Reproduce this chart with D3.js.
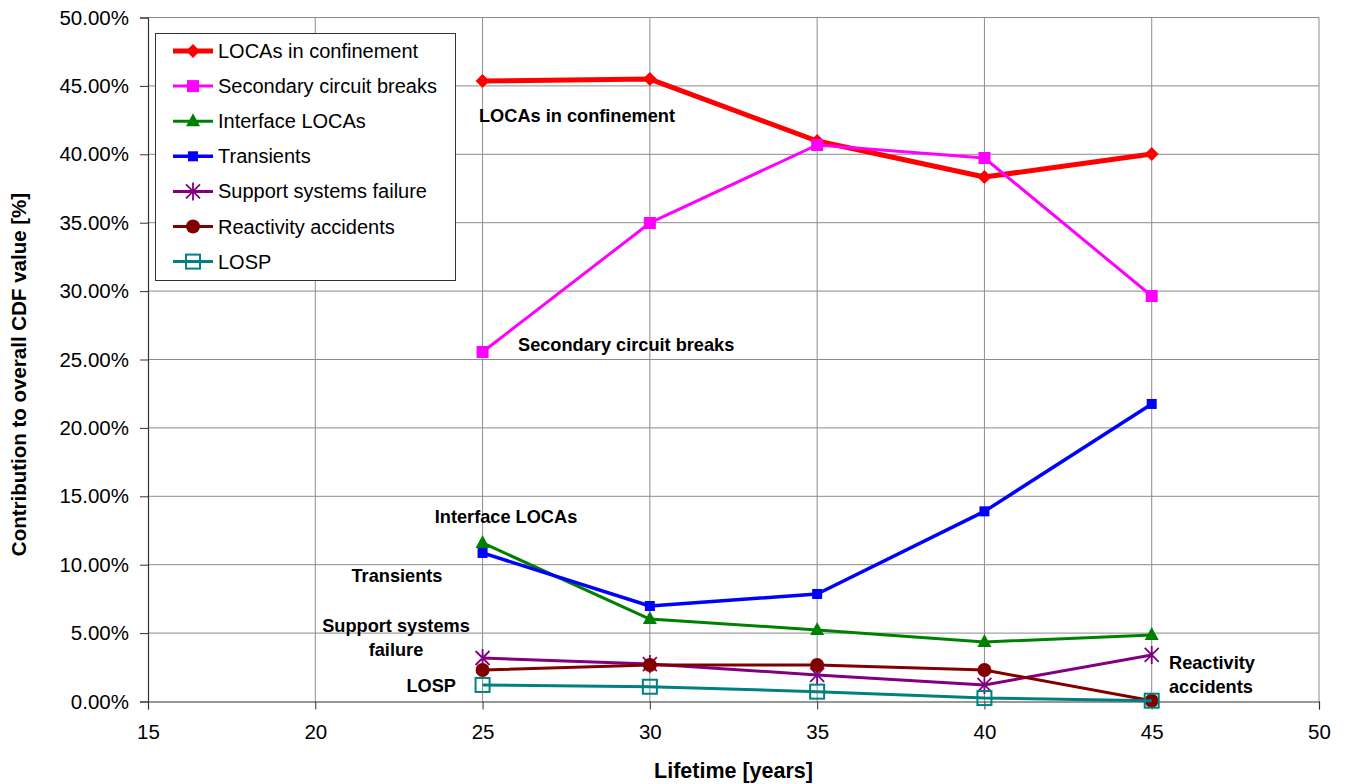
<!DOCTYPE html>
<html>
<head>
<meta charset="utf-8">
<script src="https://cdn.jsdelivr.net/npm/d3@7"></script>
<style>
  html, body { margin: 0; padding: 0; background: #fff; }
  svg { display: block; font-family: "Liberation Sans", Arial, sans-serif; }
</style>
</head>
<body>
<svg id="chart" width="1347" height="784"></svg>
<script>
// Lifetime (years) at which each contribution was evaluated
const years = [25, 30, 35, 40, 45];

// Contribution of each initiating-event group to overall CDF, in %
const locasConfinement = [45.36, 45.50, 40.97, 38.34, 40.02];
const secondaryBreaks  = [25.55, 34.98, 40.68, 39.73, 29.64];
const interfaceLocas   = [11.59, 6.03, 5.23, 4.35, 4.86];
const transients       = [10.86, 6.98, 7.86, 13.90, 21.75];
const supportSystems   = [3.18, 2.74, 1.94, 1.21, 3.40];
const reactivity       = [2.30, 2.67, 2.67, 2.30, 0.06];
const losp             = [1.21, 1.08, 0.72, 0.25, 0.06];

const seriesNames = [
  "LOCAs in confinement", "Secondary circuit breaks", "Interface LOCAs",
  "Transients", "Support systems failure", "Reactivity accidents", "LOSP"
];

const xTicks = [15, 20, 25, 30, 35, 40, 45, 50];
const yTicks = [0, 5, 10, 15, 20, 25, 30, 35, 40, 45, 50];

const series = [
  { name: seriesNames[0], values: locasConfinement, color: "#ff0000", width: 5,   marker: "diamond" },
  { name: seriesNames[1], values: secondaryBreaks,  color: "#ff00ff", width: 3,   marker: "square" },
  { name: seriesNames[2], values: interfaceLocas,   color: "#008000", width: 3,   marker: "triangle" },
  { name: seriesNames[3], values: transients,       color: "#0000ff", width: 3.5, marker: "smallsquare" },
  { name: seriesNames[4], values: supportSystems,   color: "#800080", width: 3,   marker: "star" },
  { name: seriesNames[5], values: reactivity,       color: "#800000", width: 3,   marker: "circle" },
  { name: seriesNames[6], values: losp,             color: "#008080", width: 3,   marker: "hollowsquare" }
];

const svg = d3.select("#chart");
const m = { left: 148, top: 17.5, right: 1319, bottom: 701.5 };

const x = d3.scaleLinear().domain([15, 50]).range([m.left, m.right]);
const y = d3.scaleLinear().domain([0, 50]).range([m.bottom, m.top]);

// gridlines
const grid = svg.append("g");
grid.selectAll("line.h").data(yTicks.slice(1)).join("line")
  .attr("x1", m.left).attr("x2", m.right)
  .attr("y1", d => y(d)).attr("y2", d => y(d))
  .attr("stroke", "#8c8c8c").attr("stroke-width", 1);
grid.selectAll("line.v").data(xTicks.slice(1)).join("line")
  .attr("y1", m.top).attr("y2", m.bottom)
  .attr("x1", d => x(d)).attr("x2", d => x(d))
  .attr("stroke", "#8c8c8c").attr("stroke-width", 1);

// axes
const xAxis = d3.axisBottom(x).tickValues(xTicks).tickSize(8).tickPadding(10).tickFormat(d3.format("d"));
const yAxis = d3.axisLeft(y).tickValues(yTicks).tickSize(8).tickPadding(11).tickFormat(d => d.toFixed(2) + "%");

const gx = svg.append("g").attr("transform", `translate(0,${m.bottom})`).call(xAxis);
const gy = svg.append("g").attr("transform", `translate(${m.left},0)`).call(yAxis);
[gx, gy].forEach(g => {
  g.select(".domain").attr("stroke", "#333").attr("stroke-width", 1.2);
  g.selectAll(".tick line").attr("stroke", "#333");
  g.selectAll(".tick text").attr("fill", "#000")
    .style("font-family", "'Liberation Sans', Arial, sans-serif").style("font-size", "20.5px");
});
gx.selectAll(".tick text").attr("dy", "0.95em");

// axis titles
svg.append("text")
  .attr("x", (m.left + m.right) / 2).attr("y", 778)
  .attr("text-anchor", "middle")
  .style("font-weight", "bold").style("font-size", "21.5px")
  .text("Lifetime [years]");
svg.append("text")
  .attr("transform", `translate(26,${(m.top + m.bottom) / 2 + 15}) rotate(-90)`)
  .attr("text-anchor", "middle")
  .style("font-weight", "bold").style("font-size", "20.5px")
  .text("Contribution to overall CDF value [%]");

// marker drawing
function drawMarker(g, type, color) {
  switch (type) {
    case "diamond":
      g.append("path").attr("d", "M0,-7L7,0L0,7L-7,0Z").attr("fill", color); break;
    case "square":
      g.append("rect").attr("x", -6).attr("y", -6).attr("width", 12).attr("height", 12).attr("fill", color); break;
    case "smallsquare":
      g.append("rect").attr("x", -5).attr("y", -5).attr("width", 10).attr("height", 10).attr("fill", color); break;
    case "triangle":
      g.append("path").attr("d", "M0,-8L7,5L-7,5Z").attr("fill", color); break;
    case "star":
      g.append("path").attr("d", "M-7,-7L7,7M-7,7L7,-7M0,-9L0,9")
        .attr("stroke", color).attr("stroke-width", 1.8).attr("fill", "none"); break;
    case "circle":
      g.append("circle").attr("r", 7).attr("fill", color); break;
    case "hollowsquare":
      g.append("rect").attr("x", -7).attr("y", -7).attr("width", 14).attr("height", 14)
        .attr("fill", "none").attr("stroke", color).attr("stroke-width", 2); break;
  }
}

const line = d3.line().x(d => x(d[0])).y(d => y(d[1]));
const plot = svg.append("g");
series.forEach(s => {
  const pts = years.map((yr, i) => [yr, s.values[i]]);
  plot.append("path").datum(pts)
    .attr("d", line).attr("fill", "none")
    .attr("stroke", s.color).attr("stroke-width", s.width)
    .attr("stroke-linejoin", "round");
  pts.forEach(p => {
    const g = plot.append("g").attr("transform", `translate(${x(p[0])},${y(p[1])})`);
    drawMarker(g, s.marker, s.color);
  });
});

// legend
const lg = svg.append("g");
lg.append("rect").attr("x", 155.5).attr("y", 33.5).attr("width", 300).attr("height", 247)
  .attr("fill", "#fff").attr("stroke", "#333").attr("stroke-width", 1);
series.forEach((s, i) => {
  const cy = 51 + i * 35.1;
  const g = lg.append("g");
  g.append("line").attr("x1", 173).attr("x2", 213).attr("y1", cy).attr("y2", cy)
    .attr("stroke", s.color).attr("stroke-width", s.width);
  const mg = g.append("g").attr("transform", `translate(193,${cy})`);
  drawMarker(mg, s.marker, s.color);
  g.append("text").attr("x", 218).attr("y", cy).attr("dy", "0.35em")
    .style("font-size", "20px").text(s.name);
});

// in-plot labels
const labels = [
  { lines: ["LOCAs in confinement"], x: 479, y: 116, anchor: "start" },
  { lines: ["Secondary circuit breaks"], x: 518, y: 345, anchor: "start" },
  { lines: ["Interface LOCAs"], x: 506, y: 517, anchor: "middle" },
  { lines: ["Transients"], x: 397, y: 576, anchor: "middle" },
  { lines: ["Support systems", "failure"], x: 396, y: 626, anchor: "middle" },
  { lines: ["LOSP"], x: 456, y: 686, anchor: "end" },
  { lines: ["Reactivity", "accidents"], x: 1169, y: 663, anchor: "start" }
];
labels.forEach(l => {
  const t = svg.append("text").attr("text-anchor", l.anchor)
    .style("font-weight", "bold").style("font-size", "18.2px");
  l.lines.forEach((ln, j) => {
    t.append("tspan").attr("x", l.x).attr("y", l.y + j * 23.5).attr("dy", "0.35em").text(ln);
  });
});
</script>
</body>
</html>
